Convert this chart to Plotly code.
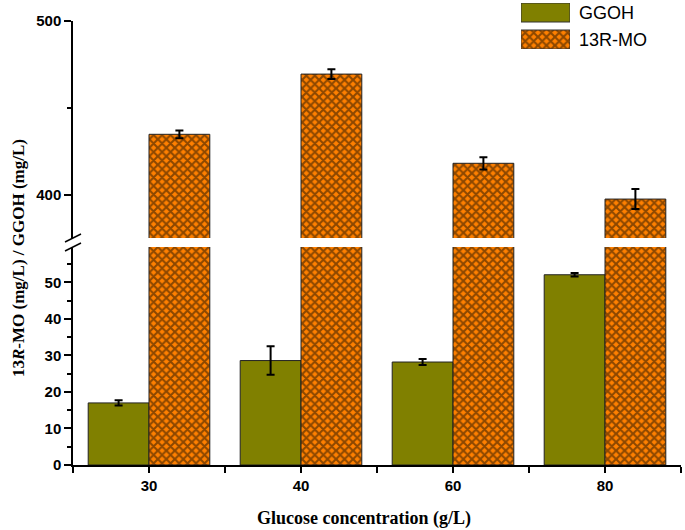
import plotly.graph_objects as go

categories = ["30", "40", "60", "80"]
ggoh = [17.0, 28.6, 28.2, 52.1]
ggoh_err = [0.7, 3.9, 0.8, 0.5]
mo = [434.8, 469.3, 418.2, 397.7]
mo_err = [2.2, 2.8, 3.5, 5.7]
series_names = ["GGOH", "13R-MO"]

xpos = list(range(len(categories)))

OLIVE = "#808000"
ORANGE = "#FF8000"
DARK = "#1a0e00"

W, H = 685, 530
L, R, T, B = 73, 4, 0, 65
ph = H - T - B          # 465
pw = W - L - R          # 608
y0px = H - B            # 465 : pixel row of the x axis


def fy(py):
    return (y0px - py) / ph


def fx(px):
    return (px - L) / pw


pattern = dict(shape="x", fgcolor=DARK, bgcolor=ORANGE, size=6, solidity=0.58, fillmode="overlay")
outline = dict(color="#222", width=1)

fig = go.Figure()
fig.add_trace(go.Bar(
    x=xpos, y=ggoh, name=series_names[0], xaxis="x", yaxis="y", showlegend=False,
    width=0.4, offset=-0.4,
    marker=dict(color=OLIVE, line=outline),
    error_y=dict(type="data", array=ggoh_err, color="black", thickness=2, width=4),
))
fig.add_trace(go.Bar(
    x=xpos, y=mo, name=series_names[1], xaxis="x", yaxis="y2", showlegend=False,
    width=0.4, offset=0,
    marker=dict(color=ORANGE, line=outline, pattern=pattern),
    error_y=dict(type="data", array=mo_err, color="black", thickness=2, width=4),
))
fig.add_trace(go.Bar(
    x=xpos, y=mo, name=series_names[1], xaxis="x", yaxis="y", showlegend=False,
    width=0.4, offset=0,
    marker=dict(color=ORANGE, line=outline, pattern=pattern),
))

# custom legend swatches (large boxes like the original) on a hidden axis pair
fig.add_trace(go.Bar(x=[0.5], y=[19], base=[27], width=[1], xaxis="x3", yaxis="y3",
                     marker=dict(color=OLIVE, line=dict(color="#333", width=1)),
                     showlegend=False, hoverinfo="skip"))
fig.add_trace(go.Bar(x=[0.5], y=[19], base=[0], width=[1], xaxis="x3", yaxis="y3",
                     marker=dict(color=ORANGE, line=dict(color="#333", width=1), pattern=pattern),
                     showlegend=False, hoverinfo="skip"))

tickfont = dict(family="Liberation Sans", size=15, color="black", weight="bold")
axline = dict(showline=True, linecolor="black", linewidth=1.5, showgrid=False, zeroline=False)

fig.update_layout(
    width=W, height=H,
    margin=dict(l=L, r=R, t=T, b=B),
    plot_bgcolor="white", paper_bgcolor="white",
    barmode="overlay",
    showlegend=False,
    xaxis=dict(**axline, range=[-0.5, 3.5], tickmode="array", tickvals=xpos, ticktext=categories,
               ticks="outside", ticklen=6, tickwidth=1.5, tickcolor="black", tickfont=tickfont,
               minor=dict(tick0=-0.5, dtick=0.5, ticks="outside", ticklen=6, tickwidth=1.5, tickcolor="black"),
               anchor="y", automargin=False),
    yaxis=dict(**axline, domain=[0, fy(247)], range=[0, 59.7], tickmode="array", tickvals=[0, 10, 20, 30, 40, 50],
               ticks="outside", ticklen=7, tickwidth=1.5, tickcolor="black", tickfont=tickfont,
               minor=dict(tick0=0, dtick=5, ticks="outside", ticklen=4, tickwidth=1.5, tickcolor="black"),
               anchor="x", automargin=False),
    yaxis2=dict(**axline, domain=[fy(238), fy(20.5)], range=[375.4, 500], tickmode="array", tickvals=[400, 500],
                ticks="outside", ticklen=7, tickwidth=1.5, tickcolor="black", tickfont=tickfont,
                minor=dict(tick0=0, dtick=50, ticks="outside", ticklen=4, tickwidth=1.5, tickcolor="black"),
                anchor="x", automargin=False),
    xaxis3=dict(domain=[fx(521), fx(570)], range=[0, 1], visible=False, anchor="y3", fixedrange=True),
    yaxis3=dict(domain=[fy(49), fy(3)], range=[0, 46], visible=False, anchor="x3", fixedrange=True),
)

# legend labels
for name, py in zip(series_names, [13, 40]):
    fig.add_annotation(text=name, xref="paper", yref="paper", x=fx(577), y=fy(py),
                       xanchor="left", yanchor="middle", showarrow=False,
                       font=dict(family="Liberation Sans", size=18, color="black"))

fig.add_annotation(text="Glucose concentration (g/L)", xref="paper", yref="paper", x=fx(364), y=fy(518),
                   xanchor="center", yanchor="middle", showarrow=False,
                   font=dict(family="Liberation Serif", size=18, color="black", weight="bold"))
fig.add_annotation(text="13<i>R</i>-MO (mg/L) / GGOH (mg/L)", xref="paper", yref="paper",
                   x=fx(18), y=fy(258), textangle=-90, xanchor="center", yanchor="middle", showarrow=False,
                   font=dict(family="Liberation Serif", size=17, color="black", weight="bold"))

# axis break marks
for (x0, y0, x1, y1) in [(65, 242, 81, 234), (65, 251, 81, 243)]:
    fig.add_shape(type="line", xref="paper", yref="paper", x0=fx(x0), y0=fy(y0), x1=fx(x1), y1=fy(y1),
                  line=dict(color="black", width=1.5))

fig.write_html("out.html", config={"displayModeBar": False},
               post_script="document.body.style.margin='0';")
